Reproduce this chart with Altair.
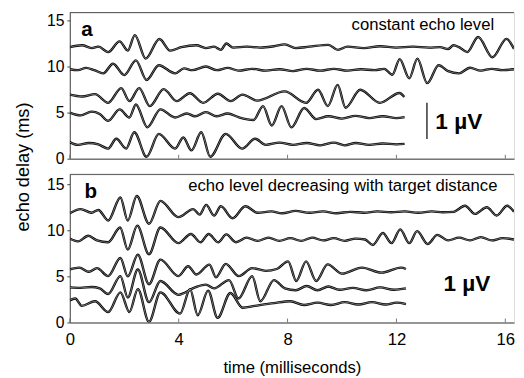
import altair as alt
import pandas as pd

FONT = "Liberation Sans"

# ---------------- axis ticks / labels ----------------
x_ticks = [0, 4, 8, 12, 16]
y_ticks = [0, 5, 10, 15]
x_title = "time (milliseconds)"
y_title = "echo delay (ms)"

# ---------------- panel a traces (time ms, echo-delay offset) ----------------
a1_t = [0.0, 0.45, 0.8, 1.05, 1.41, 1.83, 2.13, 2.39, 2.79, 3.29, 3.69, 4.1, 4.65, 5.0, 5.3, 5.55, 5.75, 6.0, 6.5, 7.0,
        7.5, 7.9, 8.3, 8.8, 9.5, 9.85, 10.2, 10.8, 11.4, 12.0, 12.6, 13.2, 13.6, 13.9, 14.1, 14.3, 14.6, 15.0, 15.53, 16.04, 16.32]
a1_v = [12.1, 12.3, 12.0, 12.15, 11.56, 12.73, 11.73, 13.4, 10.85, 12.98, 11.73, 12.1, 12.3, 12.0, 12.15, 11.8, 12.5, 12.05, 12.15, 12.05,
        12.2, 12.4, 12.0, 12.15, 12.35, 11.8, 12.15, 12.0, 12.2, 12.05, 12.15, 12.05, 12.1, 11.9, 12.3, 12.1, 11.56, 13.2, 11.0, 13.0, 11.9]

a2_t = [0, 0.3, 0.6, 0.9, 1.23, 1.59, 2.0, 2.43, 2.82, 3.27, 3.87, 4.2, 4.5, 5.0, 5.4, 5.8, 6.2, 6.7, 7.2, 7.7,
        8.2, 8.7, 9.2, 9.7, 10.2, 10.7, 11.2, 11.55, 11.85, 12.12, 12.47, 12.77, 13.13, 13.55, 13.9, 14.3, 14.7, 15.1, 15.5, 15.9, 16.32]
a2_v = [9.7, 9.6, 9.85, 9.6, 9.26, 10.3, 9.07, 10.67, 8.54, 10.14, 9.26, 9.8, 9.6, 10.0, 9.6, 9.85, 9.55, 9.75, 9.55, 9.7,
        9.5, 9.75, 9.55, 9.75, 9.55, 9.7, 9.6, 9.75, 9.1, 10.8, 8.72, 10.85, 8.19, 10.14, 9.5, 9.26, 9.86, 9.55, 9.75, 9.6, 9.7]

a3_t = [0, 0.45, 0.93, 1.41, 1.89, 2.19, 2.55, 2.94, 3.45, 3.93, 4.41, 4.9, 5.44, 5.91, 6.34, 6.88, 7.89, 8.68, 9.12, 9.48,
        9.84, 10.13, 10.67, 11.39, 12.11, 12.29]
a3_v = [6.95, 6.75, 7.0, 6.06, 7.66, 6.24, 7.66, 5.71, 7.55, 6.24, 7.1, 6.06, 7.05, 6.24, 6.95, 6.3, 7.3, 6.06, 7.48, 5.71,
        8.0, 5.53, 7.48, 6.06, 7.13, 6.7]

a4_t = [0, 0.4, 0.8, 1.1, 1.41, 1.83, 2.19, 2.43, 2.85, 3.33, 3.87, 4.3, 4.6, 5.0, 5.4, 5.8, 6.2, 6.75, 7.1, 7.42,
        7.78, 8.14, 8.61, 9.05, 9.5, 10.0, 10.5, 11.0, 11.5, 12.0, 12.3]
a4_v = [5.0, 4.7, 5.1, 4.85, 4.11, 5.35, 4.47, 5.88, 3.4, 5.35, 4.47, 4.9, 4.6, 5.05, 4.6, 4.9, 4.5, 4.2, 5.7, 3.6,
        5.7, 3.4, 5.5, 4.3, 4.6, 4.35, 4.65, 4.4, 4.6, 4.4, 4.5]

a5_t = [0, 0.3, 0.7, 1.05, 1.41, 1.71, 2.07, 2.37, 2.82, 3.27, 3.87, 4.17, 4.47, 4.83, 5.16, 5.73, 6.33, 6.81, 7.2, 7.7,
        8.2, 8.7, 9.2, 9.7, 10.1, 10.5, 11.0, 11.5, 12.0, 12.3]
a5_v = [1.8, 1.5, 1.7, 1.55, 1.1, 2.16, 1.1, 2.87, 0.21, 2.7, 1.1, 2.3, 0.9, 2.87, 0.21, 2.7, 1.1, 2.16, 1.5, 1.75,
        1.5, 1.7, 1.45, 1.75, 1.45, 1.7, 1.5, 1.65, 1.55, 1.6]

# ---------------- panel b traces ----------------
b1_t = [0, 0.4, 0.8, 1.05, 1.41, 1.86, 2.13, 2.46, 2.91, 3.33, 3.99, 4.53, 4.77, 5.01, 5.3, 5.55, 5.98, 6.45, 6.9, 7.4,
        7.8, 8.3, 8.8, 9.3, 9.8, 10.3, 10.8, 11.3, 11.8, 12.3, 12.8, 13.3, 13.7, 14.1, 14.52, 14.88, 15.32, 15.68, 16.07, 16.32]
b1_v = [11.85, 12.3, 11.9, 12.2, 11.06, 13.55, 11.06, 13.72, 10.71, 13.19, 11.42, 12.3, 11.7, 12.75, 11.6, 12.6, 11.3, 12.6, 11.9, 12.05,
        11.85, 12.1, 11.9, 12.05, 11.85, 12.0, 11.9, 12.05, 11.95, 12.05, 11.9, 12.05, 11.95, 12.0, 12.66, 11.77, 12.5, 11.6, 12.66, 12.0]

b2_t = [0, 0.3, 0.68, 1.0, 1.41, 1.85, 2.13, 2.48, 2.91, 3.33, 3.99, 4.45, 4.8, 5.1, 5.45, 5.75, 6.1, 6.5, 6.9, 7.3,
        7.7, 8.1, 8.5, 8.9, 9.3, 9.7, 10.1, 10.5, 10.85, 11.13, 11.5, 11.82, 12.14, 12.47, 12.76, 13.15, 13.5, 13.9, 14.3, 14.7,
        15.1, 15.5, 15.9, 16.32]
b2_v = [9.1, 8.8, 9.4, 8.9, 8.7, 10.3, 7.9, 10.5, 7.4, 10.3, 8.6, 9.6, 8.7, 9.6, 8.7, 9.55, 8.7, 9.2, 8.85, 9.2,
        8.85, 9.15, 8.85, 9.2, 8.9, 9.15, 8.85, 9.1, 9.0, 8.4, 9.7, 8.6, 10.1, 8.6, 9.9, 8.5, 9.5, 8.9, 9.2, 8.9,
        9.25, 8.9, 9.15, 9.0]

b3_t = [0, 0.35, 0.7, 1.0, 1.41, 1.86, 2.13, 2.5, 2.91, 3.33, 3.99, 4.35, 4.65, 5.13, 5.37, 5.73, 6.21, 6.7, 7.2, 7.6,
        8.02, 8.32, 8.68, 9.05, 9.47, 10.0, 10.73, 11.45, 12.17, 12.35]
b3_v = [5.75, 5.95, 5.5, 5.9, 5.03, 6.99, 5.0, 7.34, 4.15, 6.81, 5.03, 6.1, 5.2, 6.28, 4.9, 6.35, 5.03, 5.9, 5.6, 5.8,
        6.63, 4.5, 6.63, 4.5, 6.3, 5.3, 5.95, 5.4, 5.95, 5.8]

b4_t = [0, 0.4, 0.8, 1.1, 1.41, 1.86, 2.13, 2.5, 2.91, 3.33, 3.99, 4.6, 5.0, 5.3, 5.85, 6.2, 6.7, 7.0, 7.5, 7.9,
        8.3, 8.7, 9.1, 9.5, 9.9, 10.4, 10.9, 11.4, 11.9, 12.35]
b4_v = [3.8, 3.75, 3.85, 3.7, 3.09, 5.03, 2.7, 5.74, 2.2, 4.5, 3.0, 3.8, 4.1, 3.7, 4.6, 2.6, 5.03, 2.3, 4.6, 3.7,
        3.5, 3.95, 3.5, 3.9, 3.55, 3.75, 3.5, 3.8, 3.55, 3.7]

b5_t = [0, 0.2, 0.44, 0.93, 1.41, 1.86, 2.19, 2.5, 2.91, 3.33, 4.05, 4.42, 4.7, 5.08, 5.43, 5.9, 6.35, 6.8, 7.5, 8.1,
        8.6, 9.1, 9.6, 10.1, 10.6, 11.1, 11.6, 12.0, 12.35]
b5_v = [2.4, 2.6, 1.8, 2.3, 1.13, 3.27, 1.13, 3.62, 0.07, 3.27, 0.96, 3.6, 0.78, 3.45, 0.5, 3.2, 1.6, 1.8, 2.1, 2.3,
        1.9, 2.15, 1.9, 2.2, 1.95, 2.2, 1.95, 2.15, 2.0]

# ---------------- annotations ----------------
a_letter = ["a"]
a_letter_t = [0.42]
a_letter_v = [13.33]
a_note = ["constant echo level"]
a_note_t = [15.59]
a_note_v = [13.94]
a_bar_t = [13.12]
a_bar_v1 = [2.13]
a_bar_v2 = [6.06]
a_uv = ["1 µV"]
a_uv_t = [13.43]
a_uv_v = [3.22]

b_letter = ["b"]
b_letter_t = [0.54]
b_letter_v = [13.54]
b_note = ["echo level decreasing with target distance"]
b_note_t = [15.71]
b_note_v = [14.26]
b_uv = ["1 µV"]
b_uv_t = [13.73]
b_uv_v = [3.44]

X_MAX = 16.32
W = 453
HA, HB = 149, 151
YMAX_A = 15.85
YMAX_B = 16.06


def traces_df(traces):
    frames = []
    for name, (ts, vs) in traces.items():
        d = pd.DataFrame({"t": ts, "v": vs})
        d["trace"] = name
        d["i"] = range(len(d))
        frames.append(d)
    return pd.concat(frames, ignore_index=True)


def text_layer(labels, ts, vs, size, weight, align, xs, ys):
    d = pd.DataFrame({"s": labels, "t": ts, "v": vs})
    return alt.Chart(d).mark_text(font=FONT, fontSize=size, fontWeight=weight, align=align,
                                  baseline="alphabetic", color="black").encode(
        x=alt.X("t:Q", scale=xs), y=alt.Y("v:Q", scale=ys), text="s:N")


def panel(df, ymax, height, bottom, extra):
    xs = alt.Scale(domain=[0, X_MAX], nice=False, zero=False)
    ys = alt.Scale(domain=[0, ymax], nice=False, zero=False)
    if bottom:
        xaxis = alt.Axis(values=x_ticks, labelFontSize=17, labelFont=FONT, labelColor="black", labelFlush=False,
                         labelPadding=9, tickSize=0, domainColor="#777", domainWidth=1.5, grid=False,
                         title=x_title, titleFont=FONT, titleFontSize=17, titleFontWeight="normal",
                         titlePadding=13, titleColor="black")
    else:
        xaxis = alt.Axis(values=x_ticks, labels=False, ticks=False, domainColor="#777", domainWidth=1.5,
                         grid=False, title=None)
    yaxis = alt.Axis(values=y_ticks, labelFontSize=16, labelFont=FONT, labelColor="black", labelPadding=3,
                     tickSize=3, tickColor="#444", domainColor="#444", grid=False, title=None)
    base = alt.Chart(df)
    black = base.mark_line(interpolate="monotone", color="black", strokeWidth=2.4, clip=True).encode(
        x=alt.X("t:Q", scale=xs, axis=xaxis), y=alt.Y("v:Q", scale=ys, axis=yaxis),
        detail="trace:N", order="i:Q")
    white = base.mark_line(interpolate="monotone", color="white", strokeWidth=0.5, opacity=0.9, clip=True).encode(
        x="t:Q", y="v:Q", detail="trace:N", order="i:Q")
    ticks = alt.Chart(pd.DataFrame({"t": x_ticks})).mark_rule(color="#777", strokeWidth=1).encode(
        x="t:Q", y=alt.value(height), y2=alt.value(height - 4))
    top = alt.Chart(pd.DataFrame({"k": [0]})).mark_rule(color="#555", strokeWidth=1).encode(
        x=alt.value(0), x2=alt.value(W), y=alt.value(0))
    layers = [black, white, ticks, top] + [f(xs, ys) for f in extra]
    return alt.layer(*layers).properties(width=W, height=height)


dfa = traces_df({"a1": (a1_t, a1_v), "a2": (a2_t, a2_v), "a3": (a3_t, a3_v), "a4": (a4_t, a4_v), "a5": (a5_t, a5_v)})
dfb = traces_df({"b1": (b1_t, b1_v), "b2": (b2_t, b2_v), "b3": (b3_t, b3_v), "b4": (b4_t, b4_v), "b5": (b5_t, b5_v)})


def ytitle(xs, ys):
    return alt.Chart(pd.DataFrame({"s": [y_title]})).mark_text(
        font=FONT, fontSize=18.5, angle=270, align="center", baseline="middle", color="black").encode(
        text="s:N", x=alt.value(-48), y=alt.value(157.5))


def bar_a(xs, ys):
    d = pd.DataFrame({"t": a_bar_t, "v1": a_bar_v1, "v2": a_bar_v2})
    return alt.Chart(d).mark_rule(color="#333", strokeWidth=1.5).encode(
        x=alt.X("t:Q", scale=xs), y=alt.Y("v1:Q", scale=ys), y2="v2:Q")


extra_a = [
    lambda xs, ys: text_layer(a_letter, a_letter_t, a_letter_v, 21, "bold", "left", xs, ys),
    lambda xs, ys: text_layer(a_note, a_note_t, a_note_v, 17, "normal", "right", xs, ys),
    lambda xs, ys: text_layer(a_uv, a_uv_t, a_uv_v, 23, "bold", "left", xs, ys),
    bar_a,
    ytitle,
]
extra_b = [
    lambda xs, ys: text_layer(b_letter, b_letter_t, b_letter_v, 21, "bold", "left", xs, ys),
    lambda xs, ys: text_layer(b_note, b_note_t, b_note_v, 17, "normal", "right", xs, ys),
    lambda xs, ys: text_layer(b_uv, b_uv_t, b_uv_v, 23, "bold", "left", xs, ys),
]

pa = panel(dfa, YMAX_A, HA, False, extra_a)
pb = panel(dfb, YMAX_B, HB, True, extra_b)

chart = alt.vconcat(pa, pb, spacing=16, bounds="flush").resolve_scale(
    x="independent", y="independent").properties(
    padding={"left": 5, "top": 0, "right": 0, "bottom": 0}
).configure_view(stroke=None).configure(background="white")

chart.save("out.html", embed_options={"renderer": "svg", "actions": False})
